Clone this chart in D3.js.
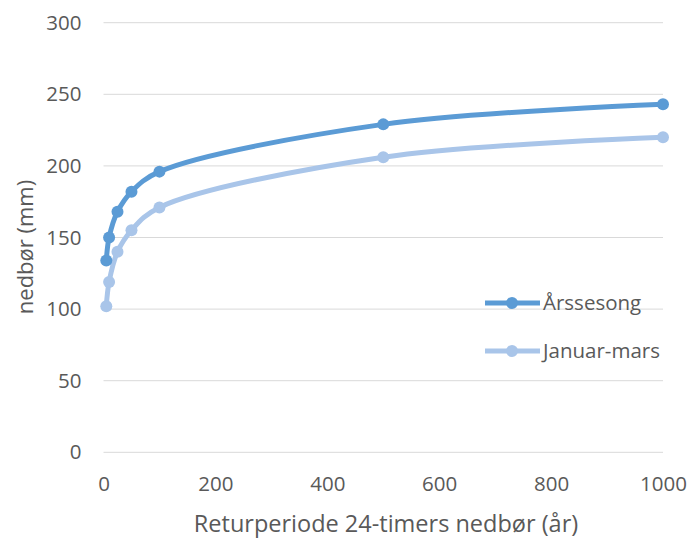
<!DOCTYPE html>
<html>
<head>
<meta charset="utf-8">
<script src="https://cdn.jsdelivr.net/npm/d3@7"></script>
<style>
  html, body { margin: 0; padding: 0; background: #fff; }
  svg { display: block; }
  text { font-family: "Open Sans", "Noto Sans", sans-serif; fill: #595959; }
</style>
</head>
<body>
<svg id="chart" width="689" height="541"></svg>
<script>
// Return periods (years) and 24-hour precipitation (mm)
const returnPeriods = [5, 10, 25, 50, 100, 500, 1000];
const arssesong     = [134, 150, 168, 182, 196, 229, 243];
const januarMars    = [102, 119, 140, 155, 171, 206, 220];

const seriesNames  = ["Årssesong", "Januar-mars"];
const seriesColors = ["#5b9bd5", "#a9c5e9"];

const xTicks = [0, 200, 400, 600, 800, 1000];
const yTicks = [0, 50, 100, 150, 200, 250, 300];

const xTitle = "Returperiode 24-timers nedbør (år)";
const yTitle = "nedbør (mm)";

const svg = d3.select("#chart");

const x = d3.scaleLinear().domain([0, 1000]).range([103.5, 663]);
const y = d3.scaleLinear().domain([0, 300]).range([452.3, 22.7]);

// Horizontal gridlines
svg.append("g")
  .selectAll("line")
  .data(yTicks)
  .join("line")
  .attr("x1", x(0)).attr("x2", x(1000))
  .attr("y1", d => y(d)).attr("y2", d => y(d))
  .attr("stroke", "#d9d9d9").attr("stroke-width", 1);

// Y axis labels
const yAxis = svg.append("g")
  .attr("transform", `translate(${x(0) - 22},0)`)
  .call(d3.axisLeft(y).tickValues(yTicks).tickSize(0).tickPadding(0));
yAxis.select(".domain").remove();
yAxis.selectAll("text")
  .attr("font-size", 20.5)
  .attr("fill", "#595959")
  .attr("font-family", "Open Sans");

// X axis labels
const xAxis = svg.append("g")
  .attr("transform", `translate(0,${y(0) + 32})`)
  .call(d3.axisBottom(x).tickValues(xTicks).tickSize(0).tickPadding(0).tickFormat(d3.format("d")));
xAxis.select(".domain").remove();
xAxis.selectAll("text")
  .attr("font-size", 20.5)
  .attr("fill", "#595959")
  .attr("font-family", "Open Sans")
  .attr("dy", "0.32em")
  .attr("y", 0);

// Axis titles
svg.append("text")
  .attr("x", 386).attr("y", 532)
  .attr("text-anchor", "middle")
  .attr("font-size", 23.5)
  .text(xTitle);

svg.append("text")
  .attr("transform", "translate(33,247) rotate(-90)")
  .attr("text-anchor", "middle")
  .attr("font-size", 22)
  .text(yTitle);

// Smoothed series lines with markers
const line = d3.line()
  .x(d => x(d[0]))
  .y(d => y(d[1]))
  .curve(d3.curveCatmullRom.alpha(0.5));

const series = [arssesong, januarMars].map((vals, i) => ({
  name: seriesNames[i],
  color: seriesColors[i],
  points: returnPeriods.map((t, j) => [t, vals[j]])
}));

// draw the lighter series first so the darker one sits on top
series.slice().reverse().forEach(s => {
  svg.append("path")
    .datum(s.points)
    .attr("d", line)
    .attr("fill", "none")
    .attr("stroke", s.color)
    .attr("stroke-width", 5)
    .attr("stroke-linejoin", "round")
    .attr("stroke-linecap", "round");
  svg.append("g")
    .selectAll("circle")
    .data(s.points)
    .join("circle")
    .attr("cx", d => x(d[0]))
    .attr("cy", d => y(d[1]))
    .attr("r", 6)
    .attr("fill", s.color);
});

// Legend
const legend = svg.append("g");
series.forEach((s, i) => {
  const ly = 303 + i * 48;
  legend.append("line")
    .attr("x1", 485).attr("x2", 540)
    .attr("y1", ly).attr("y2", ly)
    .attr("stroke", s.color).attr("stroke-width", 5);
  legend.append("circle")
    .attr("cx", 512).attr("cy", ly).attr("r", 6)
    .attr("fill", s.color);
  legend.append("text")
    .attr("x", 543).attr("y", ly)
    .attr("dy", "0.35em")
    .attr("font-size", 20.5)
    .text(s.name);
});
</script>
</body>
</html>
